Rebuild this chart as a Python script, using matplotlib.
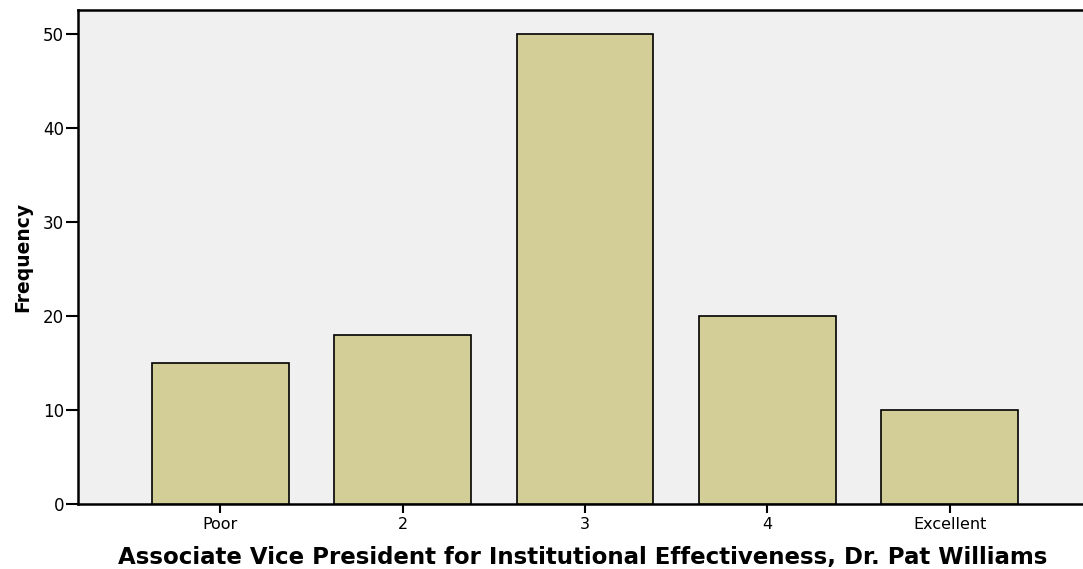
import matplotlib
matplotlib.use("Agg")
import matplotlib.pyplot as plt

categories = ["Poor", "2", "3", "4", "Excellent"]
frequencies = [15, 18, 50, 20, 10]
yticks = [0, 10, 20, 30, 40, 50]

plt.rcParams['font.family'] = ['DejaVu Sans']

fig = plt.figure(figsize=(10.83, 5.69), dpi=100)
ax = fig.add_axes([78/1083, 1 - 504/569, 1 - 78/1083 + 0.004, (504 - 10)/569])
ax.set_facecolor('#F0F0F0')

x = list(range(len(categories)))
ax.bar(x, frequencies, width=0.75, color='#D3CE97', edgecolor='black', linewidth=1.2, zorder=3)

ax.set_xlim(-0.78, 4.755)
ax.set_ylim(0, 52.6)
ax.set_yticks(yticks)
ax.set_xticks(x)
ax.set_xticklabels(categories)
ax.tick_params(axis='y', length=9, width=1.5, labelsize=12, pad=1, direction='out')
ax.tick_params(axis='x', length=6.5, width=1.5, labelsize=11.5, pad=3, direction='out')

for s in ['left', 'bottom', 'top']:
    ax.spines[s].set_linewidth(1.8)
ax.spines['right'].set_visible(False)

ax.set_xlabel('Associate Vice President for Institutional Effectiveness, Dr. Pat Williams',
              fontsize=16.5, fontweight='bold', labelpad=10)
ax.set_ylabel('Frequency', fontsize=13.5, fontweight='bold', labelpad=8)

fig.savefig('out.png', dpi=100)
